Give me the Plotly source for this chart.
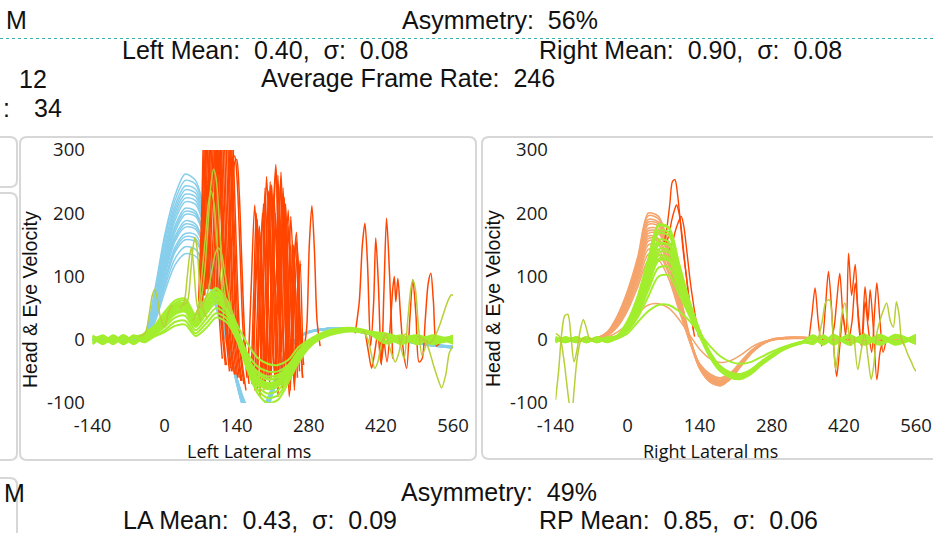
import plotly.graph_objects as go

W, H = 933, 533

# ---------------- data ----------------
X_TICKS = [-140, 0, 140, 280, 420, 560]
X_TICK_TEXT = ["-140", "0", "140", "280", "420", "560"]
Y_TICKS = [-100, 0, 100, 200, 300]
Y_TICK_TEXT = ["-100", "0", "100", "200", "300"]

# common time grid (ms)
T = [-140, -120, -100, -80, -60, -40, -20, 0, 20, 40, 60, 80, 100, 120, 140, 160, 180,
     200, 220, 240, 260, 280, 300, 320, 340, 360, 380, 400, 430, 460, 490, 520, 560]

# Left lateral: head velocity (blue)
left_head = [
    [0, 1, 0, -1, 0, 5, 75, 165, 228, 262, 252, 195, 110, 20, -65, -120, -135, -110, -60, -20, 2, 12, 16, 18, 19, 18, 15, 11, 5, 0, -4, -7, -10],
    [0, 0, 1, 0, 1, 4, 68, 158, 220, 252, 246, 190, 104, 18, -68, -121, -133, -107, -58, -19, 3, 12, 16, 18, 19, 17, 14, 10, 4, -1, -5, -8, -11],
    [0, 0, 0, 1, 2, 4, 60, 150, 212, 243, 238, 185, 100, 15, -70, -122, -130, -105, -58, -18, 3, 12, 15, 17, 18, 17, 14, 10, 4, -1, -5, -8, -11],
    [1, 0, 0, 0, 2, 5, 55, 142, 206, 237, 232, 180, 98, 14, -69, -120, -129, -103, -56, -17, 4, 13, 16, 18, 18, 17, 14, 9, 4, -1, -5, -9, -12],
    [0, 1, 0, 0, 1, 3, 50, 135, 200, 230, 226, 176, 95, 12, -68, -118, -128, -102, -55, -17, 4, 13, 16, 18, 19, 17, 13, 9, 4, -1, -5, -9, -12],
    [0, 0, 0, 1, 1, 4, 47, 130, 194, 224, 220, 172, 92, 11, -67, -117, -127, -101, -53, -16, 4, 12, 16, 17, 18, 16, 13, 9, 3, -1, -6, -9, -12],
    [1, 0, -1, 0, 1, 4, 45, 125, 188, 218, 214, 168, 90, 10, -66, -116, -126, -100, -52, -15, 5, 13, 17, 18, 18, 16, 13, 9, 3, -2, -6, -9, -12],
    [0, 0, 1, 0, 2, 6, 48, 122, 180, 208, 203, 158, 84, 8, -64, -114, -124, -98, -50, -14, 4, 12, 15, 17, 17, 16, 12, 8, 3, -1, -5, -8, -11],
    [0, 1, 0, 0, 2, 5, 42, 116, 175, 203, 199, 155, 83, 7, -65, -116, -126, -99, -52, -15, 4, 12, 15, 17, 17, 16, 12, 8, 3, -2, -5, -9, -12],
    [0, 0, 0, 1, 1, 3, 38, 110, 170, 198, 195, 153, 82, 6, -66, -118, -128, -100, -54, -16, 3, 11, 15, 16, 17, 15, 12, 8, 3, -2, -5, -9, -13],
    [0, 1, 0, 0, 1, 4, 40, 108, 163, 188, 183, 143, 75, 4, -62, -110, -122, -96, -50, -13, 5, 13, 16, 18, 18, 16, 13, 9, 4, -1, -4, -8, -10],
    [0, 0, 0, 0, 1, 4, 37, 104, 159, 183, 179, 141, 74, 4, -62, -111, -123, -97, -51, -14, 4, 12, 16, 17, 18, 16, 13, 9, 4, -1, -5, -8, -11],
    [0, 0, 0, 0, 2, 5, 36, 100, 155, 178, 175, 138, 72, 3, -63, -112, -124, -98, -52, -15, 4, 12, 15, 17, 17, 16, 12, 8, 3, -2, -6, -10, -13],
    [1, 0, 0, 1, 1, 3, 30, 92, 146, 168, 166, 131, 68, 2, -60, -108, -120, -95, -50, -14, 4, 12, 16, 17, 18, 16, 13, 9, 4, -1, -5, -8, -11],
    [0, 0, 1, 0, 2, 4, 31, 90, 142, 163, 160, 127, 65, 1, -60, -107, -119, -95, -49, -13, 4, 12, 16, 17, 18, 16, 12, 8, 3, -1, -5, -9, -12],
    [0, 0, 1, 0, 1, 4, 32, 88, 138, 158, 155, 122, 62, 0, -60, -106, -118, -94, -48, -12, 5, 13, 16, 18, 18, 16, 12, 8, 3, -1, -5, -9, -12],
    [0, 0, 0, 0, 2, 5, 30, 82, 128, 147, 143, 112, 55, -4, -62, -108, -120, -96, -50, -14, 3, 11, 15, 16, 17, 15, 12, 8, 3, -2, -6, -10, -13],
    [0, 1, 0, 0, 1, 3, 26, 75, 118, 136, 132, 104, 50, -6, -60, -104, -116, -92, -48, -13, 4, 12, 15, 17, 17, 15, 12, 8, 3, -1, -5, -8, -11],
]

# Left lateral: eye velocity (green)
left_eye = [
    [5, -4, 6, -3, 4, 9, 20, 40, 58, 62, 38, 65, 80, 60, 18, -20, -42, -50, -50, -40, -18, -2, 8, 14, 17, 18, 16, 12, 7, -2, 5, -6, 3],
    [-6, 5, -2, 7, -4, 3, 15, 32, 50, 55, 30, 55, 72, 55, 14, -30, -58, -68, -64, -47, -22, -5, 6, 12, 15, 16, 15, 11, -3, 6, -4, 5, -2],
    [3, -6, 4, -5, 6, 2, 12, 28, 45, 50, 25, 48, 66, 50, 10, -34, -62, -72, -68, -50, -24, -6, 5, 11, 14, 16, 14, 10, 8, -5, 3, -7, 4],
    [-3, 7, -5, 3, -6, 8, 18, 36, 55, 58, 32, 60, 76, 58, 16, -26, -52, -62, -58, -44, -19, -3, 7, 13, 16, 17, 16, 11, 2, 7, -6, 2, -5],
    [7, -2, 5, -7, 3, 1, 10, 24, 40, 44, 20, 40, 58, 45, 8, -38, -68, -78, -74, -54, -26, -7, 4, 10, 14, 15, 13, 9, -5, 3, 6, -3, 6],
    [-5, 3, -7, 5, -2, 6, 14, 30, 48, 52, 28, 52, 70, 52, 12, -32, -60, -70, -66, -48, -22, -4, 6, 12, 15, 17, 15, 11, 6, -6, 2, 5, -4],
    [4, -7, 2, -4, 7, -2, 8, 20, 35, 38, 15, 32, 50, 40, 5, -40, -72, -85, -80, -58, -29, -9, 3, 9, 13, 15, 14, 10, -4, 4, -7, 3, 2],
    [-7, 4, -4, 6, -3, 9, 16, 34, 52, 56, 34, 58, 74, 56, 15, -28, -50, -58, -55, -42, -18, -3, 7, 13, 16, 17, 15, 11, 9, -3, 4, -5, 7],
    [6, -5, 7, -2, 5, -1, 6, 15, 28, 30, 10, 25, 42, 34, 2, -44, -78, -92, -88, -62, -32, -11, 2, 8, 12, 14, 13, 9, -2, 5, -5, 6, -6],
    [-4, 6, -6, 4, -7, 5, 12, 26, 42, 46, 22, 44, 62, 47, 9, -36, -66, -76, -70, -51, -24, -6, 5, 11, 14, 16, 14, 10, 5, -7, 6, -2, 4],
    [2, -3, 5, -6, 3, -4, 5, 12, 22, 24, 6, 18, 35, 28, 0, -46, -84, -100, -95, -68, -36, -13, 0, 7, 11, 13, 12, 8, -6, 2, -3, 7, -3],
    [-2, 6, -3, 2, -5, 10, 22, 44, 62, 65, 40, 66, 82, 64, 25, -5, -28, -38, -40, -32, -12, 0, 9, 15, 18, 19, 17, 13, 10, 4, 7, 1, 5],
    [5, -5, 3, -7, 6, 4, 17, 35, 54, 58, 33, 58, 75, 57, 14, -27, -53, -63, -60, -45, -20, -4, 7, 13, 16, 17, 15, 11, 3, -4, 2, -6, 0],
    [-6, 2, -4, 7, -2, 1, 11, 27, 43, 48, 24, 46, 64, 49, 10, -35, -64, -74, -70, -52, -25, -6, 5, 11, 14, 16, 14, 10, -3, 5, -2, 4, -6],
    [3, 4, -6, 4, -4, 7, 14, 31, 49, 53, 29, 53, 71, 53, 13, -31, -59, -69, -65, -48, -22, -5, 6, 12, 15, 16, 15, 11, 7, -1, 5, -4, 3],
]

# Left lateral: eye-trace excursions (olive green segments)
left_eye_extra_x = [
    [60, 70, 78, 85, 90, 95, 100, 106, 112, 120, 130],
    [55, 65, 72, 80, 85, 90, 96, 102, 110, 120],
    [70, 82, 92, 98, 104, 110, 116, 124, 132],
    [35, 44, 50, 55, 59, 63, 68, 74, 82],
    [30, 38, 44, 48, 52, 56, 62, 70],
    [-50, -38, -30, -24, -19, -14, -8, 0, 8, 15],
    [500, 515, 525, 535, 545, 552, 557, 560],
    [490, 505, 515, 522, 530, 538, 546, 553, 560],
    [455, 465, 472, 478, 482, 487, 493, 500, 510],
    [385, 395, 402, 408, 414, 420, 428],
    [430, 440, 448, 455, 462, 470],
]
left_eye_extra_y = [
    [40, 60, 110, 190, 245, 270, 255, 190, 110, 60, 40],
    [30, 50, 100, 170, 215, 235, 215, 150, 90, 50],
    [50, 70, 110, 135, 145, 138, 110, 70, 40],
    [55, 60, 100, 145, 162, 145, 90, 50, 35],
    [50, 60, 100, 130, 145, 120, 60, 30],
    [5, 10, 40, 70, 80, 65, 35, 20, 45, 55],
    [0, -5, 5, 25, 50, 65, 71, 70],
    [5, 0, -20, -40, -60, -76, -55, -20, -10],
    [5, -30, 30, 80, 95, 80, 20, -25, 0],
    [15, 0, -25, -45, -35, -10, 10],
    [10, -20, -35, -20, 5, 10],
]

# Left lateral: saccades (red)
left_sacc_x = [
    [66, 72, 76, 82, 90, 96, 100, 106, 112],
    [68, 73, 78, 86, 94, 100, 104, 110, 118],
    [70, 75, 80, 88, 96, 102, 106, 112, 120],
    [72, 78, 83, 92, 100, 106, 111, 118, 126],
    [74, 80, 85, 94, 102, 108, 113, 120, 128],
    [76, 82, 88, 96, 104, 110, 115, 122, 130],
    [78, 84, 89, 98, 106, 113, 118, 125, 133],
    [80, 86, 91, 100, 108, 116, 121, 128, 136],
    [82, 88, 93, 102, 111, 119, 124, 131, 139],
    [84, 90, 96, 104, 114, 122, 127, 134, 142],
    [86, 92, 98, 107, 116, 124, 129, 136, 145],
    [90, 96, 101, 110, 118, 126, 132, 139, 148],
    [93, 99, 104, 113, 121, 128, 134, 141, 150],
    [96, 102, 107, 116, 124, 130, 136, 144, 154],
    [100, 106, 111, 120, 126, 133, 139, 147, 158],
    [73, 77, 81, 88, 96, 104, 110, 118, 126],
    [112, 118, 124, 130, 136, 141, 146, 152, 160],
    [118, 124, 130, 136, 140, 145, 150, 156, 164],
    [162, 168, 175, 182, 188, 193, 198, 204, 210, 216],
    [200, 206, 211, 216, 221, 227, 231, 235, 240, 246],
    [195, 201, 207, 213, 219, 225, 231, 238, 245, 252, 258],
    [178, 184, 190, 196, 202, 207, 212, 218, 224, 230, 236, 243, 249, 255, 261],
    [175, 180, 185, 191, 197, 203, 209, 215, 220, 226, 233, 240, 246, 252, 258, 263, 268],
    [185, 190, 195, 201, 207, 215, 222, 229, 237, 245, 252],
    [170, 175, 180, 186, 193, 199, 205, 211, 217, 222, 228, 235, 242, 250, 258, 264, 270],
    [220, 226, 232, 238, 244, 250, 256, 262, 268],
    [168, 173, 178, 184, 190, 196, 202, 208, 214, 220, 226, 232, 238, 244, 250, 256, 262],
    [180, 186, 192, 198, 204, 210, 216, 222, 228, 234, 240, 246, 252, 258, 264],
    [172, 178, 184, 190, 196, 202, 208, 214, 220, 226, 232, 238, 244, 250, 256, 262, 268],
    [270, 276, 281, 286, 291, 296, 302],
    [370, 378, 384, 389, 394, 400, 406, 410, 415, 421, 426, 431, 437, 443],
    [425, 432, 438, 443, 446, 449, 453, 458, 464, 470, 476, 482, 488, 494, 500, 506, 512, 517, 522, 528, 534],
    [390, 396, 402, 408, 414, 420, 426],
]
left_sacc_y = [
    [60, 200, 340, 430, 420, 330, 180, 40, -30],
    [50, 190, 330, 440, 430, 320, 170, 30, -40],
    [60, 190, 330, 440, 430, 320, 170, 30, -40],
    [70, 210, 340, 460, 440, 330, 180, 20, -50],
    [60, 200, 330, 440, 440, 320, 170, 20, -45],
    [70, 200, 330, 450, 450, 330, 170, 20, -50],
    [70, 210, 340, 450, 450, 320, 170, 20, -50],
    [80, 220, 350, 460, 450, 320, 160, 10, -55],
    [80, 210, 340, 450, 460, 330, 170, 10, -55],
    [80, 210, 340, 450, 460, 330, 170, 10, -60],
    [80, 200, 330, 450, 460, 330, 170, 10, -60],
    [80, 200, 330, 440, 460, 330, 170, 10, -65],
    [80, 200, 330, 440, 450, 320, 160, 0, -65],
    [80, 200, 330, 440, 450, 320, 160, 0, -70],
    [70, 190, 320, 430, 440, 310, 150, -10, -80],
    [60, 180, 320, 420, 410, 330, 190, 40, -20],
    [60, 150, 240, 285, 290, 250, 150, 20, -60],
    [40, 120, 220, 280, 285, 230, 120, 0, -70],
    [-50, 80, 213, 90, -40, 120, 258, 140, -20, -70],
    [-60, 40, 200, 277, 160, -20, 120, 215, 100, -60],
    [-70, 100, 240, 110, 40, 250, 120, -30, 195, 60, -60],
    [-70, 60, 200, 100, -50, 80, 230, 120, 20, 240, 110, -40, 50, 160, -20],
    [-80, 40, 170, 60, -60, 220, 70, 80, 260, 100, -50, 180, 40, -70, 20, 125, -10],
    [-90, 80, 240, 80, -60, 200, 60, -80, 30, 150, -40],
    [-70, 60, 190, 30, -80, 60, 250, 110, -60, 90, 230, 80, -90, 30, 140, 20, -40],
    [-90, 60, 225, 70, -80, 100, 170, 40, -60],
    [-60, 70, 200, 80, -70, 90, 235, 90, -60, 120, 265, 110, -50, 60, 150, 30, -50],
    [-80, 90, 215, 60, -70, 140, 270, 120, -70, 100, 205, 60, -80, 80, 120],
    [-70, 100, 180, 40, -60, 150, 245, 80, -80, 140, 225, 70, -70, 110, 155, 10, -60],
    [-20, 20, 150, 212, 140, 30, -10],
    [10, 60, 150, 184, 120, -10, 60, 161, 90, -40, 80, 192, 100, -30],
    [10, -35, 20, 80, 100, 60, 97, 40, -20, -45, 30, 95, 40, -35, -30, 30, 90, 105, 60, -10, -5],
    [10, -20, -45, -20, 10, -37, 0],
]

# Right lateral: head velocity (orange)
right_head = [
    [0, 0, 0, 1, 3, 12, 38, 78, 132, 200, 195, 150, 78, 8, -44, -67, -73, -62, -42, -22, -8, 0, 3, 4, 4, 3, 2, 1, 0, 0, 0, 0, 0],
    [0, 0, 0, 1, 2, 11, 36, 75, 128, 196, 191, 146, 75, 6, -44, -66, -71, -61, -41, -21, -8, 0, 3, 4, 4, 3, 2, 1, 0, 0, 0, 0, 0],
    [0, 0, 1, 0, 2, 10, 34, 72, 125, 190, 186, 142, 72, 4, -45, -66, -70, -60, -40, -20, -7, 0, 2, 3, 3, 3, 2, 1, 0, 0, 0, 0, 0],
    [0, 0, 0, 0, 3, 10, 33, 70, 122, 186, 183, 140, 71, 4, -43, -64, -69, -59, -39, -19, -6, 0, 2, 3, 3, 3, 2, 1, 0, 0, 0, 0, 0],
    [0, 1, 0, 0, 3, 11, 32, 68, 120, 182, 180, 138, 70, 5, -42, -62, -68, -58, -38, -19, -6, 1, 3, 4, 4, 3, 2, 1, 1, 0, 0, 0, 0],
    [0, 0, 0, 1, 2, 9, 30, 65, 115, 176, 175, 135, 68, 3, -44, -64, -70, -60, -40, -20, -7, 0, 2, 3, 3, 2, 2, 1, 0, 0, 0, 0, 0],
    [0, 0, 0, 1, 2, 9, 29, 63, 112, 172, 171, 132, 66, 3, -42, -62, -67, -58, -38, -19, -6, 0, 2, 3, 3, 2, 2, 1, 0, 0, 0, 0, 0],
    [0, 0, 0, 0, 2, 8, 28, 62, 110, 168, 168, 130, 65, 4, -40, -60, -66, -57, -37, -18, -6, 1, 3, 4, 3, 3, 2, 1, 0, 0, 0, 0, 0],
    [0, 0, 1, 0, 3, 10, 30, 64, 112, 164, 160, 122, 60, 0, -46, -66, -71, -61, -41, -21, -8, -1, 2, 3, 3, 2, 1, 1, 0, 0, 0, 0, 0],
    [0, 0, 1, 0, 2, 8, 27, 60, 106, 160, 158, 122, 61, 2, -41, -59, -65, -56, -37, -18, -6, 0, 2, 3, 3, 2, 1, 1, 0, 0, 0, 0, 0],
    [0, 0, 0, 0, 2, 8, 26, 58, 104, 156, 156, 120, 60, 3, -40, -58, -64, -55, -36, -18, -6, 0, 2, 3, 3, 2, 2, 1, 0, 0, 0, 0, 0],
    [0, 0, 0, 1, 2, 7, 24, 55, 100, 150, 150, 116, 58, 2, -42, -60, -66, -57, -38, -19, -7, 0, 2, 3, 3, 2, 1, 1, 0, 0, 0, 0, 0],
    [0, 0, 0, 0, 2, 8, 25, 54, 96, 143, 142, 108, 52, -2, -45, -63, -69, -59, -39, -20, -7, 0, 2, 3, 3, 2, 1, 1, 0, 0, 0, 0, 0],
    [0, 0, 0, 0, 2, 7, 22, 50, 90, 135, 136, 104, 50, 0, -40, -56, -62, -54, -36, -18, -6, 0, 2, 3, 3, 2, 1, 0, 0, 0, 0, 0, 0],
    [0, 0, 1, 0, 2, 6, 20, 46, 84, 125, 126, 96, 46, -1, -38, -54, -60, -52, -34, -17, -6, 0, 2, 3, 3, 2, 1, 0, 0, 0, 0, 0, 0],
    [0, 0, 0, 0, 1, 4, 12, 25, 42, 55, 57, 50, 32, 8, -15, -30, -36, -33, -24, -12, -4, 0, 1, 2, 2, 1, 1, 0, 0, 0, 0, 0, 0],
]

# Right lateral: eye velocity (green)
right_eye = [
    [4, -3, 2, -4, 3, 1, 5, 28, 68, 125, 182, 178, 120, 62, 15, -20, -42, -52, -55, -48, -35, -24, -15, -8, -4, -2, 6, -7, 8, -6, 5, -8, 6],
    [-3, 4, -2, 3, -4, 2, 7, 30, 70, 128, 180, 176, 118, 60, 14, -21, -43, -53, -56, -49, -36, -24, -15, -8, -4, 5, -6, 4, -5, 7, -4, 6, -3],
    [2, -4, 4, -2, 2, -3, 5, 26, 64, 120, 172, 170, 115, 60, 13, -21, -43, -53, -56, -49, -35, -24, -15, -8, -4, -5, 4, -8, 6, -3, 7, -5, 8],
    [-4, 2, -3, 4, -2, 3, 4, 25, 62, 115, 168, 165, 112, 58, 12, -22, -44, -54, -57, -50, -36, -25, -16, -9, -5, 3, -8, 6, -4, 5, -7, 4, -6],
    [3, -2, 4, -3, 4, -2, 6, 24, 58, 108, 158, 155, 105, 52, 10, -24, -46, -56, -58, -50, -37, -25, -15, -8, -3, -6, 5, -3, 7, -8, 3, -6, 5],
    [-2, 3, -4, 2, -3, 4, 4, 22, 56, 104, 153, 150, 100, 52, 10, -23, -45, -55, -57, -50, -36, -24, -15, -8, -3, 4, -4, 7, -6, 3, -5, 8, -4],
    [4, -2, 3, -4, 2, -1, 3, 20, 52, 100, 150, 150, 104, 55, 13, -20, -42, -52, -54, -47, -34, -23, -14, -7, -3, -7, 6, -5, 4, -6, 8, -3, 5],
    [-3, 4, -2, 3, -4, 2, 5, 22, 54, 98, 143, 142, 96, 48, 8, -26, -48, -58, -60, -52, -38, -26, -16, -9, -4, 2, -5, 8, -7, 6, -4, 5, -7],
    [2, -3, 3, -4, 4, -2, 3, 18, 48, 92, 138, 138, 95, 50, 11, -22, -44, -54, -56, -49, -35, -24, -15, -8, -4, -3, 7, -4, 3, -7, 6, -2, 4],
    [-4, 3, -2, 4, -3, 3, 4, 20, 50, 92, 133, 130, 88, 44, 6, -28, -50, -60, -62, -54, -40, -28, -17, -10, -5, 6, -3, 5, -8, 4, -6, 7, -5],
    [3, -4, 2, -2, 3, -3, 3, 18, 46, 88, 128, 128, 88, 46, 8, -25, -47, -57, -59, -51, -37, -25, -16, -9, -4, -4, 3, -6, 5, -5, 4, -4, 7],
    [-2, 2, -4, 3, -2, 2, 2, 16, 44, 85, 125, 125, 86, 45, 9, -24, -45, -55, -57, -49, -36, -24, -15, -8, -3, 5, -7, 3, -3, 8, -5, 3, -6],
    [4, -3, 3, -3, 2, -4, 3, 15, 40, 78, 114, 115, 80, 42, 8, -25, -46, -55, -57, -50, -36, -25, -16, -9, -4, -2, 4, -7, 7, -4, 5, -7, 3],
    [-3, 2, -3, 4, -4, 3, 2, 14, 36, 68, 100, 102, 72, 38, 6, -26, -47, -56, -58, -51, -37, -25, -15, -8, -3, 7, -2, 6, -6, 2, -8, 4, -2],
    [2, -2, 4, -3, 3, -2, 2, 10, 28, 45, 55, 55, 45, 30, 10, -10, -26, -35, -38, -35, -27, -19, -12, -7, -3, -4, 5, -3, 4, -5, 2, -4, 5],
]

right_eye_extra_x = [
    [-140, -134, -128, -122, -116, -110, -104, -98, -92, -86, -80, -74, -66],
    [-140, -132, -124, -118, -112, -108, -104, -98, -90, -82],
    [370, 378, 385, 392, 398, 404, 410, 416, 422, 428, 434],
    [440, 447, 453, 460, 467, 473, 478, 484, 490, 496, 503, 510, 516, 522, 527, 532, 538],
    [530, 538, 545, 551, 556, 560],
]
right_eye_extra_y = [
    [-95, -50, 10, 38, 40, 5, -35, -15, 15, 32, 18, 2, 0],
    [10, 5, -30, -70, -105, -110, -80, -30, 0, 2],
    [0, 30, 60, 63, 20, -47, -10, 40, 58, 20, -10],
    [5, -47, -20, 10, -30, -63, -40, 10, 30, 45, 58, 30, 20, 60, 40, 0, -10],
    [5, -10, -25, -35, -45, -50],
]

right_sacc_x = [
    [70, 76, 82, 87, 92, 97, 102, 108, 115, 122, 130],
    [74, 80, 86, 91, 95, 100, 105, 112, 120, 128],
    [80, 86, 92, 98, 104, 109, 115, 122, 130, 138],
    [352, 358, 364, 370, 377, 384, 390, 396, 401, 406, 412, 418, 424],
    [395, 401, 406, 412, 418, 424, 429, 435, 442, 448, 454, 461, 467, 471, 477, 484, 490, 496],
    [430, 436, 442, 448, 455, 461, 467, 474, 480, 484, 490, 496, 502],
]
right_sacc_y = [
    [150, 175, 215, 250, 253, 230, 190, 140, 95, 45, 5],
    [150, 165, 190, 205, 213, 200, 170, 115, 60, 15],
    [140, 150, 170, 185, 195, 180, 140, 90, 45, 5],
    [0, 40, 82, 30, -10, 50, 108, 50, -20, -58, -10, 40, 0],
    [0, 20, 60, 105, 40, 10, 137, 70, 119, 30, -10, 84, 30, 79, 20, -63, -20, 0],
    [0, 30, 90, 40, -10, 60, 20, -20, 50, 90, 30, -20, 0],
]

# ---------------- styling ----------------
BLUE = "#87ceeb"
ORANGE = "#f5a46c"
RED = "#ff4500"
GREEN = "#a2ee2e"
OLIVE = "#b8cf38"
TEXT = "#111111"
BORDER = "#d7d7d7"


def pxx(x):
    return x / W


def pyy(y):
    return 1 - y / H


fig = go.Figure()


def add_lines(xs_list, ys_list, color, width, xa, ya):
    for xs, ys in zip(xs_list, ys_list):
        fig.add_trace(go.Scatter(x=xs, y=ys, mode="lines",
                                 line=dict(color=color, width=width, shape="spline", smoothing=0.8),
                                 xaxis=xa, yaxis=ya, hoverinfo="skip", showlegend=False))


# left panel
add_lines([T] * len(left_head), left_head, BLUE, 1.5, "x", "y")
add_lines(left_sacc_x, left_sacc_y, RED, 1.5, "x", "y")
add_lines([T] * len(left_eye), left_eye, GREEN, 2.0, "x", "y")
add_lines(left_eye_extra_x, left_eye_extra_y, OLIVE, 1.5, "x", "y")
# right panel
add_lines([T] * len(right_head), right_head, ORANGE, 1.5, "x2", "y2")
add_lines(right_sacc_x, right_sacc_y, RED, 1.4, "x2", "y2")
add_lines([T] * len(right_eye), right_eye, GREEN, 2.0, "x2", "y2")
add_lines(right_eye_extra_x, right_eye_extra_y, OLIVE, 1.5, "x2", "y2")

tickfont = dict(family="Open Sans", size=18.5, color="#1a1a1a")
common_x = dict(range=[-140, 560], tickvals=X_TICKS, ticktext=X_TICK_TEXT, showgrid=False,
                zeroline=False, showline=False, ticks="outside", ticklen=6,
                tickcolor="rgba(0,0,0,0)", tickfont=tickfont, fixedrange=True, automargin=False)
common_y = dict(range=[-100, 300], tickvals=Y_TICKS, ticktext=Y_TICK_TEXT, showgrid=False,
                zeroline=False, showline=False, ticks="outside", ticklen=3,
                tickcolor="rgba(0,0,0,0)", tickfont=tickfont, fixedrange=True, automargin=False)

ydom = [pyy(403), pyy(150)]
fig.update_layout(
    width=W, height=H, margin=dict(l=0, r=0, t=0, b=0, pad=0, autoexpand=False),
    paper_bgcolor="white", plot_bgcolor="rgba(0,0,0,0)", showlegend=False,
    xaxis=dict(domain=[pxx(92.5), pxx(453)], anchor="y", **common_x),
    yaxis=dict(domain=ydom, anchor="x", **common_y),
    xaxis2=dict(domain=[pxx(555.5), pxx(916)], anchor="y2", **common_x),
    yaxis2=dict(domain=ydom, anchor="x2", **common_y),
)


def rrect(x0, y0, x1, y1, r):
    pts = [("M", x0 + r, y0), ("L", x1 - r, y0), ("Q", x1, y0, x1, y0 + r), ("L", x1, y1 - r),
           ("Q", x1, y1, x1 - r, y1), ("L", x0 + r, y1), ("Q", x0, y1, x0, y1 - r),
           ("L", x0, y0 + r), ("Q", x0, y0, x0 + r, y0)]
    s = ""
    for p in pts:
        cmd = p[0]
        coords = p[1:]
        parts = []
        for i in range(0, len(coords), 2):
            parts.append(f"{pxx(coords[i]):.5f},{pyy(coords[i + 1]):.5f}")
        s += cmd + " " + " ".join(parts) + " "
    return s + "Z"


shapes = []
for box in [(-30, 137, 17, 187), (-30, 193, 17, 460), (-30, 478, 17, 600),
            (20, 137, 476, 460), (482, 137, 960, 459)]:
    shapes.append(dict(type="path", path=rrect(*box, 7), xref="paper", yref="paper",
                       line=dict(color=BORDER, width=2), fillcolor="rgba(0,0,0,0)", layer="below"))
shapes.append(dict(type="line", xref="paper", yref="paper", x0=0, x1=1, y0=pyy(38.5), y1=pyy(38.5),
                   line=dict(color="#3fb0b0", width=1, dash="dot")))
fig.update_layout(shapes=shapes)

ann = []


def text(t, x, y, anchor="center", size=25, fam="Liberation Sans, Arial", angle=0):
    ann.append(dict(text=t, x=pxx(x), y=pyy(y), xref="paper", yref="paper", showarrow=False,
                    xanchor=anchor, yanchor="middle", textangle=angle,
                    font=dict(family=fam, size=size, color=TEXT)))


text("M", 4, 20, "left")
text("Asymmetry:  56%", 499.5, 20)
text("Left Mean:  0.40,  σ:  0.08", 265, 50)
text("Right Mean:  0.90,  σ:  0.08", 690, 50)
text("12", 17, 79, "left")
text("Average Frame Rate:  246", 408, 78)
text(":", 1, 108, "left")
text("34", 32, 108, "left")
text("M", 2, 493, "left")
text("Asymmetry:  49%", 499, 492)
text("LA Mean:  0.43,  σ:  0.09", 260, 520)
text("RP Mean:  0.85,  σ:  0.06", 678.5, 520)
# axis titles
text("Head & Eye Velocity", 30, 300, size=19.5, angle=-90)
text("Head & Eye Velocity", 493, 299, size=19.5, angle=-90)
text("Left Lateral ms", 248.5, 451, size=18, fam="Open Sans")
text("Right Lateral ms", 710, 451, size=18, fam="Open Sans")
fig.update_layout(annotations=ann)

fig.write_html("out.html", config={"displayModeBar": False},
               post_script="document.body.style.margin='0';document.body.style.overflow='hidden';")
